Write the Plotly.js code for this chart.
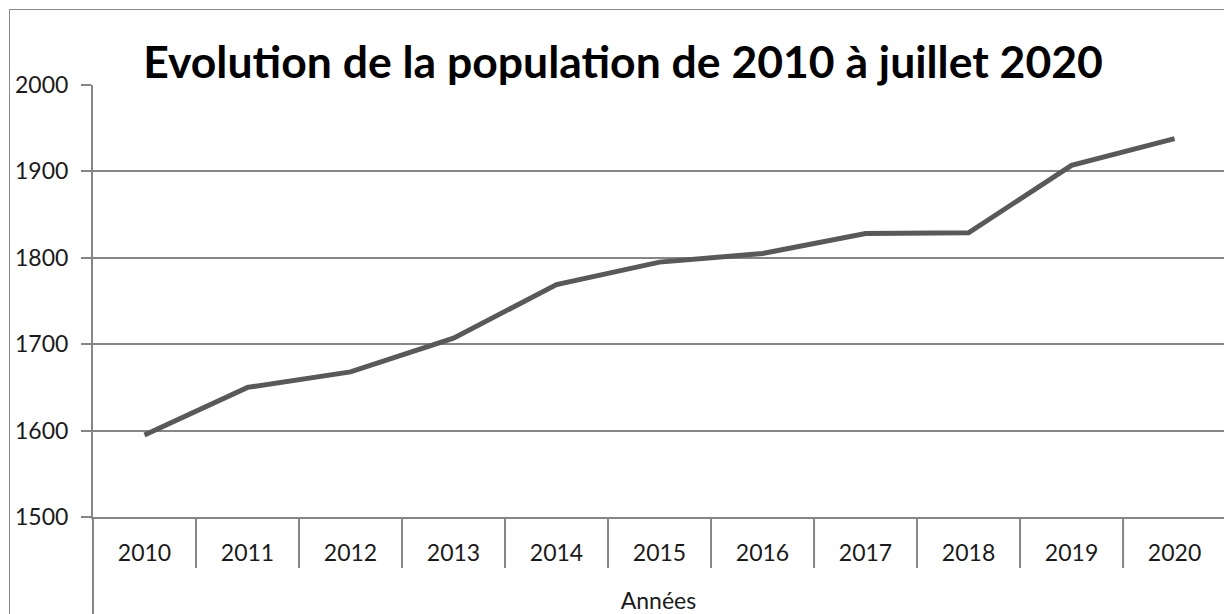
<!DOCTYPE html>
<html>
<head>
<meta charset="utf-8">
<script src="https://cdn.plot.ly/plotly-3.0.1.min.js"></script>
<style>
  html, body { margin: 0; padding: 0; background: #fff; overflow: hidden; }
  #wrap { position: relative; width: 1224px; height: 614px; }
  #chart { width: 1224px; height: 614px; }
  #frame { position: absolute; left: 9px; top: 9px; width: 1300px; height: 700px;
           border: 1px solid #8a8a8a; pointer-events: none; box-sizing: border-box; }
</style>
</head>
<body>
<div id="wrap">
  <div id="chart"></div>
  <div id="frame"></div>
</div>
<script>
const years = ['2010', '2011', '2012', '2013', '2014', '2015', '2016', '2017', '2018', '2019', '2020'];
const population = [1595, 1650, 1668, 1707, 1769, 1795, 1805, 1828, 1829, 1907, 1938];
const yTickValues = [1500, 1600, 1700, 1800, 1900, 2000];
const titleText = 'Evolution de la population de 2010 à juillet 2020';
const xTitleText = 'Années';

const axisGray = '#868686';
const fontFamily = 'Lato, "Open Sans", sans-serif';
const xRange = [-0.5, years.length - 0.52];
const plotHeightPx = 614 - 85 - 97;

const trace = {
  x: years,
  y: population,
  type: 'scatter',
  mode: 'lines',
  line: { color: '#595959', width: 5 },
  hoverinfo: 'x+y'
};

// category separators below the x axis (between consecutive categories)
const separatorShapes = years.slice(1).map((_, i) => ({
  type: 'line', xref: 'x', yref: 'paper',
  x0: i + 0.5, x1: i + 0.5, y0: 0, y1: -51 / plotHeightPx,
  line: { color: axisGray, width: 2 }
}));

// y axis line continues down through the category label band
const yAxisExtension = {
  type: 'line', xref: 'paper', yref: 'paper',
  x0: 0, x1: 0, y0: 0, y1: -0.3,
  line: { color: axisGray, width: 2 }
};

const layout = {
  width: 1224,
  height: 614,
  margin: { l: 93, r: 0, t: 85, b: 97 },
  paper_bgcolor: 'rgba(0,0,0,0)',
  plot_bgcolor: '#fff',
  showlegend: false,
  font: { family: fontFamily, color: '#1a1a1a', size: 23 },
  title: {
    text: titleText,
    font: { family: fontFamily, size: 44.5, weight: 700, color: '#000' },
    xref: 'container', x: 0.509, xanchor: 'center',
    yref: 'container', y: 1 - 62 / 614, yanchor: 'middle'
  },
  xaxis: {
    type: 'category',
    categoryorder: 'array',
    categoryarray: years,
    range: xRange,
    showgrid: false,
    zeroline: false,
    showline: true,
    linecolor: axisGray,
    linewidth: 2,
    ticks: 'outside',
    ticklen: 14,
    tickcolor: 'rgba(0,0,0,0)',
    tickfont: { family: fontFamily, size: 23, color: '#1a1a1a' },
    title: { text: xTitleText, font: { family: fontFamily, size: 23, color: '#1a1a1a' }, standoff: 33 },
    automargin: false,
    fixedrange: true
  },
  yaxis: {
    range: [1500, 2000],
    tickmode: 'array',
    tickvals: yTickValues,
    showgrid: true,
    gridcolor: axisGray,
    gridwidth: 2,
    zeroline: false,
    showline: true,
    linecolor: axisGray,
    linewidth: 2,
    ticks: 'outside',
    ticklen: 10,
    tickwidth: 2,
    tickcolor: axisGray,
    ticklabelstandoff: 8,
    tickfont: { family: fontFamily, size: 23, color: '#1a1a1a' },
    automargin: false,
    fixedrange: true
  },
  shapes: separatorShapes.concat([yAxisExtension])
};

Plotly.newPlot('chart', [trace], layout, { displayModeBar: false, staticPlot: true });
</script>
</body>
</html>
